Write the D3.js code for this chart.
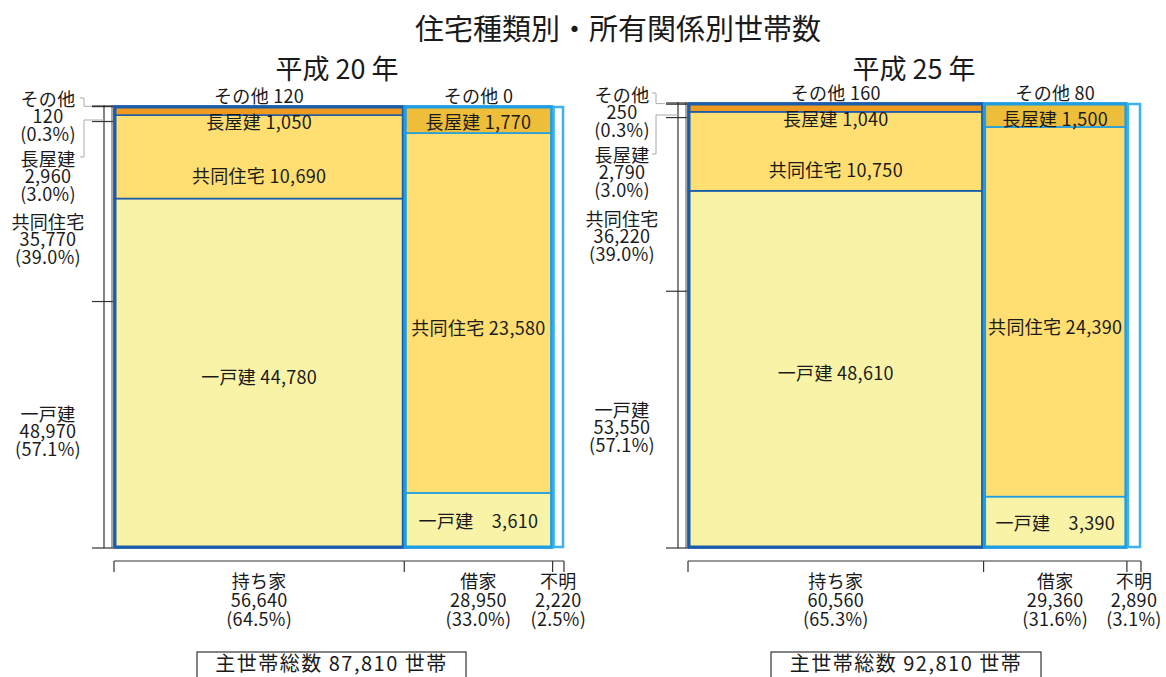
<!DOCTYPE html>
<html><head><meta charset="utf-8">
<script src="https://cdn.jsdelivr.net/npm/d3@7"></script>
<style>
html,body{margin:0;padding:0;background:#fff;}
svg text{font-family:"Noto Sans CJK JP","Noto Sans",sans-serif;fill:#1a1a1a;}
</style></head>
<body>
<svg id="chart" width="1166" height="677"></svg>
<script>
// ---------- data ----------
const title = "住宅種類別・所有関係別世帯数";
const panelTitles = ["平成 20 年", "平成 25 年"];
const tenureNames = ["持ち家", "借家", "不明"];
const typeNames = ["一戸建", "共同住宅", "長屋建", "その他"]; // bottom -> top

// 平成20年
const h20Owner = [44780, 10690, 1050, 120];
const h20Rent = [3610, 23580, 1770, 0];
const h20Tenure = [56640, 28950, 2220];
const h20TenurePct = ["64.5%", "33.0%", "2.5%"];
const h20TypeTotal = [48970, 35770, 2960, 120];
const h20TypePct = ["57.1%", "39.0%", "3.0%", "0.3%"];
const h20Total = 87810;

// 平成25年
const h25Owner = [48610, 10750, 1040, 160];
const h25Rent = [3390, 24390, 1500, 80];
const h25Tenure = [60560, 29360, 2890];
const h25TenurePct = ["65.3%", "31.6%", "3.1%"];
const h25TypeTotal = [53550, 36220, 2790, 250];
const h25TypePct = ["57.1%", "39.0%", "3.0%", "0.3%"];
const h25Total = 92810;

// ---------- styling / layout ----------
const fmt = d3.format(",");
const ownerFill = ["#F8F3A6", "#FFDE72", "#EF9A1F", "#FFFFFF"];
const rentFill = ["#F8F3A6", "#FFDE72", "#EEBE3A", "#FFFFFF"];
const ownerStroke = "#1A5BAA", rentStroke = "#1E9DE3", unkStroke = "#3DB2F0";
const fs = 18, ls = 0.3;

const svg = d3.select("#chart");
svg.append("text").attr("x", 618).attr("y", 27).attr("text-anchor", "middle")
  .attr("dominant-baseline", "central").attr("font-size", 29).text(title);

const panels = [
  {title: panelTitles[0], owner: h20Owner, rent: h20Rent, tenure: h20Tenure, tenurePct: h20TenurePct,
   typeTotal: h20TypeTotal, typePct: h20TypePct, total: h20Total,
   x0: 114, W: 450, yTop: 106, axisX: 104, labX: 48, cx: 337,
   groupY: [432, 240, 177, 117], leaderOther: [80, 98, 84, 92], leaderRow: [80, 157, 84, 120],
   boxX: 197, boxW: 269},
  {title: panelTitles[1], owner: h25Owner, rent: h25Rent, tenure: h25Tenure, tenurePct: h25TenurePct,
   typeTotal: h25TypeTotal, typePct: h25TypePct, total: h25Total,
   x0: 688, W: 453, yTop: 103, axisX: 678, labX: 622, cx: 914,
   groupY: [428, 237, 173, 113], leaderOther: [652, 93, 656, 665], leaderRow: [652, 154, 656, 115],
   boxX: 771, boxW: 270}
];
const yBot = 548;
const ownerNudge = [3, 18], rentNudge = [0, 14];

panels.forEach(p => {
  const g = svg.append("g");
  g.append("text").attr("x", p.cx).attr("y", 67).attr("text-anchor", "middle")
    .attr("dominant-baseline", "central").attr("font-size", 27).text(p.title);

  const x = d3.scaleLinear().domain([0, p.total]).range([p.x0, p.x0 + p.W]);
  const tCum = [0, ...d3.cumsum(p.tenure)];
  const cols = p.tenure.map((v, i) => ({x0: x(tCum[i]), x1: x(tCum[i + 1])}));

  function drawColumn(vals, col, fills, stroke) {
    const tot = d3.sum(vals);
    const y = d3.scaleLinear().domain([0, tot]).range([yBot, p.yTop]);
    const cum = [0, ...d3.cumsum(vals)];
    vals.forEach((v, i) => {
      g.append("rect").attr("x", col.x0).attr("width", col.x1 - col.x0)
        .attr("y", y(cum[i + 1])).attr("height", y(cum[i]) - y(cum[i + 1]))
        .attr("fill", fills[i]).attr("stroke", stroke).attr("stroke-width", 1.6);
    });
    g.append("rect").attr("x", col.x0 + 1).attr("y", p.yTop + 1)
      .attr("width", col.x1 - col.x0 - 2).attr("height", yBot - p.yTop - 2)
      .attr("fill", "none").attr("stroke", stroke).attr("stroke-width", 3);
    return {y, cum};
  }
  const o = drawColumn(p.owner, cols[0], ownerFill, ownerStroke);
  const r = drawColumn(p.rent, cols[1], rentFill, rentStroke);
  g.append("rect").attr("x", cols[2].x0 + 1).attr("y", p.yTop + 1)
    .attr("width", cols[2].x1 - cols[2].x0 - 2).attr("height", yBot - p.yTop - 2)
    .attr("fill", "#fff").attr("stroke", unkStroke).attr("stroke-width", 2.5);

  function label(xc, yc, txt) {
    g.append("text").attr("x", xc).attr("y", yc).attr("text-anchor", "middle")
      .attr("dominant-baseline", "central").attr("font-size", fs)
      .attr("letter-spacing", ls).text(txt);
  }
  // multi-line label as one text element with tspans
  function stack(xc, yFirst, lines, gap) {
    const t = g.append("text").attr("x", xc).attr("y", yFirst).attr("text-anchor", "middle")
      .attr("font-size", fs).attr("letter-spacing", ls);
    lines.forEach((s, j) => {
      t.append("tspan").attr("x", xc).attr("dy", j === 0 ? "0.35em" : gap).text(s);
    });
  }
  [[o, p.owner, cols[0], ownerNudge, " "], [r, p.rent, cols[1], rentNudge, "　"]].forEach(([s, vals, col, nd, sep]) => {
    const xc = (col.x0 + col.x1) / 2;
    const mid = i => (s.y(s.cum[i]) + s.y(s.cum[i + 1])) / 2;
    label(xc, mid(0) + nd[0], typeNames[0] + sep + fmt(vals[0]));
    label(xc, mid(1) + nd[1], typeNames[1] + " " + fmt(vals[1]));
    label(xc, Math.max(mid(2), p.yTop + 15), typeNames[2] + " " + fmt(vals[2]));
    label(xc, p.yTop - 11, typeNames[3] + " " + fmt(vals[3]));
  });

  // left axis (type totals)
  const ya = d3.scaleLinear().domain([0, d3.sum(p.typeTotal)]).range([yBot, p.yTop]);
  const aCum = [0, ...d3.cumsum(p.typeTotal)];
  g.append("line").attr("x1", p.axisX).attr("x2", p.axisX).attr("y1", p.yTop - 1).attr("y2", yBot)
    .attr("stroke", "#333").attr("stroke-width", 1.2);
  g.append("line").attr("x1", p.x0 - 2).attr("x2", p.x0 - 2).attr("y1", p.yTop - 1).attr("y2", yBot)
    .attr("stroke", "#555").attr("stroke-width", 1);
  aCum.forEach(c => {
    g.append("line").attr("x1", p.axisX - 12).attr("x2", p.x0 - 1)
      .attr("y1", ya(c)).attr("y2", ya(c)).attr("stroke", "#333").attr("stroke-width", 1.2);
  });
  [p.leaderOther, p.leaderRow].forEach((L, k) => {
    const path = k === 0
      ? `M${L[0]},${L[1]}H${L[2]}V${(ya(aCum[3]) + ya(aCum[4])) / 2}H${L[3]}`
      : `M${L[0]},${L[1]}H${L[2]}V${L[3]}H${p.axisX}`;
    g.append("path").attr("d", path).attr("fill", "none").attr("stroke", "#aaa").attr("stroke-width", 1);
  });
  p.typeTotal.forEach((v, i) => {
    stack(p.labX, p.groupY[i] - 17.5, [typeNames[i], fmt(v), "(" + p.typePct[i] + ")"], 17.5);
  });

  // bottom axis
  const by = 561;
  g.append("line").attr("x1", p.x0).attr("x2", p.x0 + p.W).attr("y1", by).attr("y2", by)
    .attr("stroke", "#333").attr("stroke-width", 1.2);
  tCum.forEach(c => {
    g.append("line").attr("x1", x(c)).attr("x2", x(c)).attr("y1", by).attr("y2", by + 11)
      .attr("stroke", "#333").attr("stroke-width", 1.2);
  });
  p.tenure.forEach((v, i) => {
    const xc = (cols[i].x0 + cols[i].x1) / 2;
    stack(xc, 582, [tenureNames[i], fmt(v), "(" + p.tenurePct[i] + ")"], 19);
  });

  // total box
  g.append("rect").attr("x", p.boxX).attr("y", 652).attr("width", p.boxW).attr("height", 50)
    .attr("fill", "#fff").attr("stroke", "#333").attr("stroke-width", 1.2);
  g.append("text").attr("x", p.boxX + p.boxW / 2).attr("y", 662).attr("text-anchor", "middle")
    .attr("dominant-baseline", "central").attr("font-size", 20).attr("letter-spacing", 1.5)
    .text("主世帯総数 " + fmt(p.total) + " 世帯");
});
</script>
</body></html>
